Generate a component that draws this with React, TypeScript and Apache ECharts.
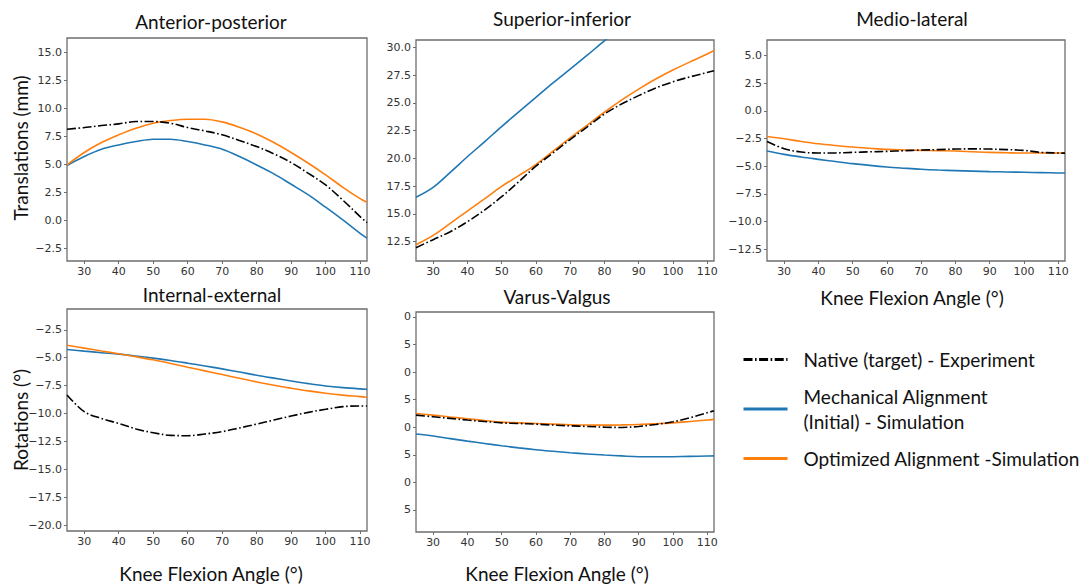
import React, { useEffect, useRef } from "react";
import * as echarts from "echarts";

const X = [25, 30, 35, 40, 45, 50, 55, 60, 65, 70, 75, 80, 85, 90, 95, 100, 105, 110, 112];
const X_TICKS = [30, 40, 50, 60, 70, 80, 90, 100, 110];

const SERIES_NAMES = [
  "Native (target) - Experiment",
  "Mechanical Alignment\n(Initial) - Simulation",
  "Optimized Alignment -Simulation",
];

// Anterior-posterior
const AP_NATIVE = [8.14, 8.29, 8.47, 8.62, 8.83, 8.83, 8.68, 8.29, 7.99, 7.64, 7.13, 6.59, 5.94, 5.16, 4.2, 3.16, 1.8, 0.33, -0.2];
const AP_MECH = [4.9, 5.7, 6.35, 6.74, 7.04, 7.25, 7.25, 7.04, 6.74, 6.35, 5.7, 4.95, 4.15, 3.22, 2.27, 1.17, 0.03, -1.16, -1.6];
const AP_OPT = [4.95, 6.06, 6.95, 7.64, 8.23, 8.68, 8.92, 9.04, 9.04, 8.8, 8.32, 7.72, 6.95, 6.06, 5.1, 4.06, 2.95, 1.94, 1.62];
const AP_TICKS = [-2.5, 0, 2.5, 5, 7.5, 10, 12.5, 15];

// Superior-inferior
const SI_NATIVE = [11.96, 12.68, 13.4, 14.3, 15.35, 16.55, 17.9, 19.3, 20.5, 21.7, 22.85, 24.0, 24.9, 25.66, 26.35, 26.9, 27.35, 27.74, 27.9];
const SI_MECH = [16.51, 17.4, 18.75, 20.15, 21.5, 22.87, 24.2, 25.5, 26.8, 28.05, 29.3, 30.6, 31.8, 33.0, 34.0, 35.0, 35.8, 36.5, 36.8];
const SI_OPT = [12.23, 13.07, 14.15, 15.26, 16.35, 17.48, 18.45, 19.45, 20.65, 21.85, 23.0, 24.16, 25.25, 26.25, 27.15, 27.96, 28.7, 29.4, 29.72];
const SI_TICKS = [12.5, 15, 17.5, 20, 22.5, 25, 27.5, 30];

// Medio-lateral
const ML_NATIVE = [-2.76, -3.42, -3.72, -3.81, -3.8, -3.75, -3.7, -3.66, -3.6, -3.54, -3.5, -3.45, -3.43, -3.45, -3.5, -3.57, -3.75, -3.81, -3.82];
const ML_MECH = [-3.63, -3.93, -4.17, -4.38, -4.58, -4.77, -4.93, -5.07, -5.18, -5.28, -5.35, -5.4, -5.45, -5.49, -5.52, -5.55, -5.58, -5.61, -5.62];
const ML_OPT = [-2.31, -2.52, -2.76, -2.97, -3.13, -3.27, -3.38, -3.48, -3.53, -3.57, -3.6, -3.63, -3.69, -3.75, -3.78, -3.81, -3.81, -3.81, -3.82];
const ML_TICKS = [-12.5, -10, -7.5, -5, -2.5, 0, 2.5, 5];

// Internal-external
const IE_NATIVE = [-8.33, -9.83, -10.44, -10.88, -11.38, -11.71, -11.95, -11.98, -11.83, -11.62, -11.29, -10.94, -10.58, -10.22, -9.89, -9.62, -9.38, -9.32, -9.32];
const IE_MECH = [-4.26, -4.41, -4.55, -4.68, -4.85, -5.04, -5.25, -5.49, -5.74, -6.0, -6.28, -6.57, -6.83, -7.08, -7.32, -7.53, -7.68, -7.79, -7.82];
const IE_OPT = [-3.88, -4.14, -4.4, -4.65, -4.91, -5.19, -5.51, -5.85, -6.18, -6.51, -6.84, -7.17, -7.47, -7.73, -7.97, -8.18, -8.35, -8.48, -8.54];
const IE_TICKS = [-20, -17.5, -15, -12.5, -10, -7.5, -5, -2.5];

// Varus-Valgus
const VV_NATIVE = [1.1, 0.95, 0.8, 0.65, 0.52, 0.4, 0.34, 0.28, 0.2, 0.13, 0.07, 0.01, -0.02, 0.07, 0.25, 0.49, 0.86, 1.31, 1.49];
const VV_MECH = [-0.62, -0.8, -1.03, -1.26, -1.47, -1.68, -1.87, -2.04, -2.18, -2.31, -2.42, -2.52, -2.6, -2.67, -2.68, -2.67, -2.64, -2.61, -2.6];
const VV_OPT = [1.25, 1.1, 0.93, 0.77, 0.61, 0.46, 0.4, 0.34, 0.28, 0.22, 0.2, 0.19, 0.21, 0.25, 0.32, 0.4, 0.52, 0.65, 0.71];
const VV_TICKS = [-7.5, -5, -2.5, 0, 2.5, 5, 7.5, 10];

const TITLES = ["Anterior-posterior", "Superior-inferior", "Medio-lateral", "Internal-external", "Varus-Valgus"];
const Y_NAMES = ["Translations (mm)", "Rotations (°)"];
const X_NAME = "Knee Flexion Angle (°)";

const COLORS = ["#000000", "#1f77b4", "#ff7f0e"];
const TEXT_FONT = "Lato, 'Open Sans', sans-serif";
const TICK_FONT = "'DejaVu Sans', sans-serif";

const GRIDS = [
  { left: 67, top: 38, width: 300, height: 223 },
  { left: 416, top: 40, width: 298, height: 221 },
  { left: 767, top: 40, width: 298, height: 221 },
  { left: 67, top: 309, width: 300, height: 222 },
  { left: 416, top: 312, width: 298, height: 220 },
];

const PANELS = [
  { data: [AP_NATIVE, AP_MECH, AP_OPT], ticks: AP_TICKS, min: -3.64, max: 16.3, lastDigit: false },
  { data: [SI_NATIVE, SI_MECH, SI_OPT], ticks: SI_TICKS, min: 10.76, max: 30.67, lastDigit: false },
  { data: [ML_NATIVE, ML_MECH, ML_OPT], ticks: ML_TICKS, min: -13.58, max: 6.42, lastDigit: false },
  { data: [IE_NATIVE, IE_MECH, IE_OPT], ticks: IE_TICKS, min: -20.51, max: -0.64, lastDigit: false },
  { data: [VV_NATIVE, VV_MECH, VV_OPT], ticks: VV_TICKS, min: -9.5, max: 10.45, lastDigit: true },
];

const fmt = (v: number) => v.toFixed(1).replace("-", "\u2212");

export default function App() {
  const ref = useRef<HTMLDivElement>(null);
  useEffect(() => {
    if (!ref.current) return;
    const chart = echarts.init(ref.current, undefined, { renderer: "svg" });
    const axisColor = "#6e6e6e";
    const grid = GRIDS.map((g) => ({
      ...g,
      show: true,
      borderColor: axisColor,
      borderWidth: 1.3,
      backgroundColor: "#ffffff",
      containLabel: false,
    }));
    const xAxis = GRIDS.map((_, i) => ({
      type: "value",
      gridIndex: i,
      min: 25,
      max: 112,
      position: "bottom",
      axisLine: { show: false, onZero: false },
      splitLine: { show: false },
      axisTick: { show: true, length: 3, customValues: X_TICKS, lineStyle: { color: axisColor, width: 1 } },
      axisLabel: {
        customValues: X_TICKS,
        color: "#333",
        fontSize: 11,
        fontFamily: TICK_FONT,
        margin: 5,
      },
    }));
    const yAxis = PANELS.map((p, i) => ({
      type: "value",
      gridIndex: i,
      min: p.min,
      max: p.max,
      position: "left",
      axisLine: { show: false, onZero: false },
      splitLine: { show: false },
      axisTick: { show: true, length: 3, customValues: p.ticks, lineStyle: { color: axisColor, width: 1 } },
      axisLabel: {
        customValues: p.ticks,
        color: "#333",
        fontSize: 11,
        fontFamily: TICK_FONT,
        margin: 5,
        formatter: (v: number) => (p.lastDigit ? v.toFixed(1).slice(-1) : fmt(v)),
      },
    }));
    const series: any[] = [];
    PANELS.forEach((p, i) => {
      p.data.forEach((arr, k) => {
        series.push({
          type: "line",
          name: SERIES_NAMES[k],
          xAxisIndex: i,
          yAxisIndex: i,
          data: X.map((x, j) => [x, arr[j]]),
          symbol: "none",
          smooth: 0.35,
          clip: true,
          z: k === 0 ? 5 : 3,
          lineStyle: {
            color: COLORS[k],
            width: 1.6,
            type: k === 0 ? [9, 2.5, 1.6, 2.5] : "solid",
          },
          itemStyle: { color: COLORS[k] },
        });
      });
    });
    const titleCenters = [
      [211, 21],
      [562, 18],
      [912, 18],
      [212, 294],
      [557, 296],
    ];
    const graphic: any[] = [];
    TITLES.forEach((t, i) => {
      graphic.push({
        type: "text",
        x: titleCenters[i][0],
        y: titleCenters[i][1],
        style: {
          text: t,
          font: `19px ${TEXT_FONT}`,
          fill: "#111",
          textAlign: "center",
          textVerticalAlign: "middle",
        },
      });
    });
    graphic.push({
      type: "text",
      x: 20,
      y: 148,
      rotation: Math.PI / 2,
      style: { text: Y_NAMES[0], font: `19px ${TEXT_FONT}`, fill: "#111", textAlign: "center", textVerticalAlign: "middle" },
    });
    graphic.push({
      type: "text",
      x: 20,
      y: 420,
      rotation: Math.PI / 2,
      style: { text: Y_NAMES[1], font: `19px ${TEXT_FONT}`, fill: "#111", textAlign: "center", textVerticalAlign: "middle" },
    });
    [
      [912, 297],
      [211, 573],
      [557, 573],
    ].forEach(([x, y]) => {
      graphic.push({
        type: "text",
        x,
        y,
        style: { text: X_NAME, font: `19px ${TEXT_FONT}`, fill: "#111", textAlign: "center", textVerticalAlign: "middle" },
      });
    });
    chart.setOption({
      animation: false,
      backgroundColor: "#ffffff",
      grid,
      xAxis,
      yAxis,
      series,
      graphic,
      legend: {
        data: SERIES_NAMES,
        orient: "vertical",
        left: 742,
        top: 347,
        padding: 0,
        itemWidth: 44,
        itemHeight: 12,
        itemGap: 12,
        itemStyle: { color: "transparent", borderColor: "transparent", borderWidth: 0 },
        lineStyle: { width: 3 },
        textStyle: {
          fontSize: 19,
          fontFamily: TEXT_FONT,
          color: "#111",
          lineHeight: 25,
          padding: [0, 0, 0, 11],
        },
      },
    });
    return () => chart.dispose();
  }, []);
  return (
    <div
      ref={ref}
      style={{ position: "fixed", left: 0, top: 0, width: 1081, height: 587, background: "#fff" }}
    />
  );
}
